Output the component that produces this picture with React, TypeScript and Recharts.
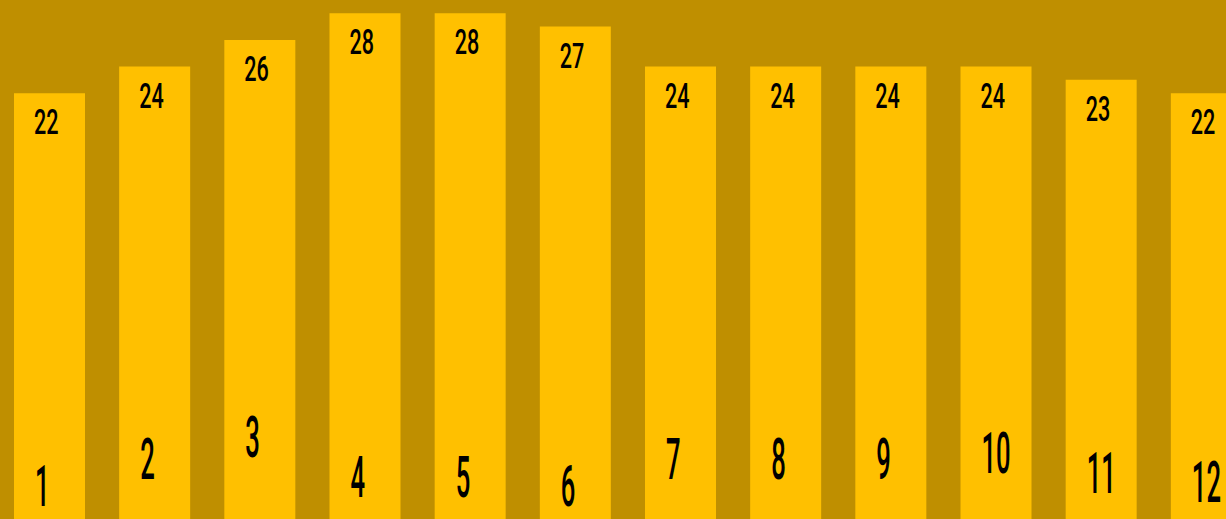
import { BarChart, Bar, XAxis, YAxis, LabelList } from "recharts"

// monthly values
const months = ["1", "2", "3", "4", "5", "6", "7", "8", "9", "10", "11", "12"]
const temps = [22, 24, 26, 28, 28, 27, 24, 24, 24, 24, 23, 22]

// value axis is cropped: bars run off the bottom edge of the picture
const AXIS_MIN = -10
const AXIS_MAX = 29

// layout only: the month numbers sit at staggered heights (baseline, px from top)
const monthBaseline = [506, 479, 457, 497, 497, 506, 479, 479, 479, 473, 493, 502]

const data = months.map((m, i) => ({ month: m, value: temps[i], range: [AXIS_MIN, temps[i]] }))

const FONT = "Roboto, 'DejaVu Sans', sans-serif"

const ValueLabel = (props: any) => {
  const { x, y, value } = props
  return (
    <text
      transform={`translate(${x + 20},${y + 41}) scale(0.6,1)`}
      fontSize={36}
      fontWeight={500}
      fontFamily={FONT}
      fill="#000"
      textAnchor="start"
    >
      {value}
    </text>
  )
}

const MonthLabel = (props: any) => {
  const { x, value } = props
  const i = months.indexOf(String(value))
  return (
    <text
      transform={`translate(${x + 21},${monthBaseline[i]}) scale(0.45,1)`}
      fontSize={57}
      fontWeight={500}
      fontFamily={FONT}
      fill="#000"
      textAnchor="start"
    >
      {value}
    </text>
  )
}

export default function App() {
  return (
    <div
      style={{
        position: "absolute",
        left: 0,
        top: 0,
        width: 1226,
        height: 519,
        overflow: "hidden",
        background: "#BF8F00",
      }}
    >
      <div style={{ position: "absolute", left: -3, top: 0 }}>
        <BarChart width={1262} height={519} data={data} margin={{ top: 0, right: 0, bottom: 0, left: 0 }}>
          <XAxis dataKey="month" hide />
          <YAxis type="number" domain={[AXIS_MIN, AXIS_MAX]} allowDataOverflow hide />
          <Bar dataKey="range" fill="#FFC000" barSize={71} isAnimationActive={false}>
            <LabelList dataKey="value" content={ValueLabel} />
            <LabelList dataKey="month" content={MonthLabel} />
          </Bar>
        </BarChart>
      </div>
    </div>
  )
}
